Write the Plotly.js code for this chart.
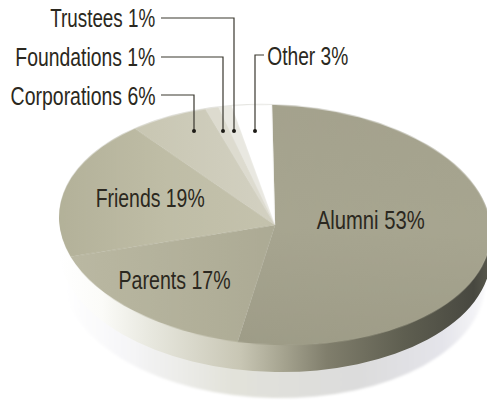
<!DOCTYPE html>
<html><head><meta charset="utf-8">
<script src="https://cdn.plot.ly/plotly-3.0.1.min.js"></script>
<style>html,body{margin:0;padding:0;background:#fff}#c{width:487px;height:400px}</style>
</head><body><div id="c"></div>
<script>
const categories = ['Alumni','Parents','Friends','Corporations','Foundations','Trustees','Other'];
const shares = [53,17,19,6,1,1,3];
const sliceColors = ['#a3a18c','#b3b19b','#bdbba4','#cdcbb9','#dddbcf','#e9e8e1','#ffffff'];
const labelCats = ['Alumni','Parents','Friends','Trustees','Foundations','Corporations','Other'];
const labelX = [370,174,149.5,102.5,85,82.5,307.5];
const labelY = [220,280,198,18,57,96,56];
const labelWidths = [108,112,109,105,140,145,81];
const leaders = [
  [[161,18],[234,18],[234,131]],
  [[161,57],[223,57],[223,131]],
  [[161,95],[194,95],[194,131]],
  [[264,55],[255,55],[255,131]]
];
const FONT = '"Liberation Sans",sans-serif';
const W=487,H=400;
const px=x=>x/W, py=y=>1-y/H;
const disc=()=>({type:'pie',values:[1],labels:['d'],sort:false,textinfo:'none',hoverinfo:'skip',showlegend:false,
  domain:{x:[0,1],y:[0,1]},marker:{colors:['#ccc'],line:{width:0}}});
const traces=[disc(),disc(),disc(),disc(),disc(),{
  type:'pie',values:shares,labels:categories,sort:false,direction:'clockwise',rotation:-0.8,textinfo:'none',
  hoverinfo:'skip',showlegend:false,domain:{x:[0,1],y:[0,1]},marker:{colors:sliceColors,line:{width:0}}
}];
const annotations=labelCats.map((c,i)=>({xref:'paper',yref:'paper',x:px(labelX[i]),y:py(labelY[i]),xanchor:'center',yanchor:'middle',showarrow:false,
  text:c+' '+shares[categories.indexOf(c)]+'%',font:{family:FONT,size:25,color:'#2b2820'}}));
const shapes=[];
leaders.forEach(l=>{
  shapes.push({type:'path',xref:'paper',yref:'paper',
    path:'M '+l.map(p=>px(p[0])+' '+py(p[1])).join(' L '),line:{color:'#3a382f',width:1.2},fillcolor:'rgba(0,0,0,0)'});
  const e=l[l.length-1];
  shapes.push({type:'circle',xref:'paper',yref:'paper',x0:px(e[0]-2),x1:px(e[0]+2),y0:py(e[1]-2),y1:py(e[1]+2),
    fillcolor:'#1d1b16',line:{width:0}});
});
const layout={width:W,height:H,margin:{l:0,r:0,t:0,b:0,pad:0},paper_bgcolor:'#fff',plot_bgcolor:'#fff',showlegend:false,annotations,shapes};
Plotly.newPlot('c',traces,layout,{staticPlot:true,displayModeBar:false}).then(gd=>{
  const svg=gd.querySelector('.main-svg');
  const NS='http://www.w3.org/2000/svg';
  const defs=document.createElementNS(NS,'defs');
  const grad=(id,stops,vertical)=>{
    const g=document.createElementNS(NS,'linearGradient');g.id=id;
    if(vertical){g.setAttribute('x1',0);g.setAttribute('y1',0);g.setAttribute('x2',0);g.setAttribute('y2',1);}
    stops.forEach(([o,c])=>{const s=document.createElementNS(NS,'stop');s.setAttribute('offset',o);s.setAttribute('stop-color',c);g.appendChild(s);});
    defs.appendChild(g);
  };
  grad('sideG',[[0,'#ffffff'],[.1,'#fbfbf8'],[.21,'#e8e8df'],[.42,'#c8c6b4'],[.52,'#a5a38f'],[.62,'#807e6c'],[.8,'#5e5e50'],[.96,'#484840'],[1,'#5a5a4e']]);
  grad('shadowG',[[0,'#ffffff'],[.15,'#f6f6f8'],[.4,'#e2e2da'],[.7,'#dcdcdc'],[.9,'#e4e4ea'],[1,'#f8f8fa']]);
  grad('s0',[[0,'#a4a28d'],[.5,'#a7a590'],[1,'#9e9c87']],true);
  grad('s1',[[0,'#bab8a2'],[1,'#acaa94']]);
  grad('s2',[[0,'#b3b199'],[.5,'#bfbda6'],[1,'#c4c2ad']]);
  grad('s3',[[0,'#c8c6b2'],[1,'#d3d1c2']]);
  const f=document.createElementNS(NS,'filter');f.id='blurF';
  const b=document.createElementNS(NS,'feGaussianBlur');b.setAttribute('stdDeviation','1.5');f.appendChild(b);defs.appendChild(f);
  const f2=document.createElementNS(NS,'filter');f2.id='softF';
  const b2=document.createElementNS(NS,'feGaussianBlur');b2.setAttribute('stdDeviation','0.6');f2.appendChild(b2);defs.appendChild(f2);
  svg.insertBefore(defs,svg.firstChild);
  const groups=[...gd.querySelectorAll('.pielayer g.trace')];
  const cx=W/2,cy=H/2,R=Math.min(W,H)/2;
  const specs=[
    {x:274,y:279,rx:211,ry:119,sk:1,fill:'url(#shadowG)',filter:'url(#blurF)'},
    {x:275,y:252,rx:216,ry:120,sk:1,fill:'url(#sideG)'},
    {x:275,y:243,rx:216,ry:120,sk:1.3,fill:'url(#sideG)'},
    {x:275,y:234,rx:216,ry:120,sk:1.6,fill:'url(#sideG)'},
    {x:275,y:224,rx:216,ry:120,sk:2,fill:'#e6e6e2'},
    {x:275,y:225,rx:216,ry:120,sk:2,filter:'url(#softF)'}
  ];
  groups.forEach((g,i)=>{
    const s=specs[i];
    g.setAttribute('transform','translate('+s.x+','+s.y+') skewY('+s.sk+') scale('+s.rx/R+','+s.ry/R+') translate('+(-cx)+','+(-cy)+')');
    if(s.fill) g.querySelectorAll('path.surface').forEach(p=>{p.style.fill=s.fill;});
    if(s.filter) g.setAttribute('filter',s.filter);
  });
  const top=groups[groups.length-1];
  top.querySelectorAll('g.slice path.surface').forEach((p,i)=>{ if(i<4) p.style.fill='url(#s'+i+')'; });
  gd.querySelectorAll('.annotation-text-g text').forEach((t,i)=>{
    t.setAttribute('textLength',labelWidths[i]);
    t.setAttribute('lengthAdjust','spacingAndGlyphs');
  });
});
</script></body></html>
